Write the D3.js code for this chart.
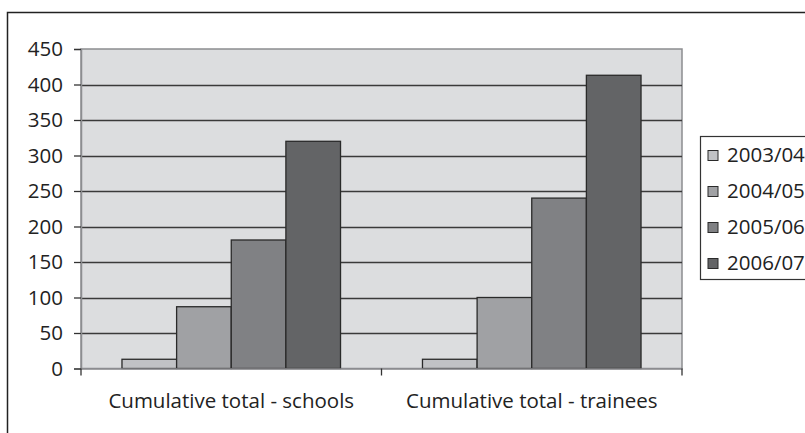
<!DOCTYPE html>
<html>
<head>
<meta charset="utf-8">
<script src="https://cdn.jsdelivr.net/npm/d3@7"></script>
<style>
  html, body { margin: 0; padding: 0; background: #fff; overflow: hidden; }
  svg { display: block; }
  text { font-family: "Open Sans", "DejaVu Sans", sans-serif; fill: #222; }
</style>
</head>
<body>
<svg id="chart" width="805" height="433"></svg>
<script>
const categories = ["Cumulative total - schools", "Cumulative total - trainees"];
const seriesNames = ["2003/04", "2004/05", "2005/06", "2006/07"];
const values2003 = [13, 13];
const values2004 = [87, 100];
const values2005 = [181, 240];
const values2006 = [320, 413];
const yTicks = [0, 50, 100, 150, 200, 250, 300, 350, 400, 450];
const seriesColors = ["#c1c2c5", "#a0a1a4", "#808184", "#636466"];

const seriesValues = [values2003, values2004, values2005, values2006];

const svg = d3.select("#chart");
const fontSize = 20.5;

// outer frame
svg.append("path")
  .attr("d", "M7.5,433 V12.5 H805")
  .attr("fill", "none").attr("stroke", "#222").attr("stroke-width", 1.5);

const plot = { left: 81, right: 682, top: 49, bottom: 368.5 };

const y = d3.scaleLinear().domain([0, 450]).range([plot.bottom, plot.top]);
const x0 = d3.scaleBand().domain(categories).range([plot.left, plot.right]).padding(0);
const x1 = d3.scaleBand().domain(seriesNames).range([0, x0.bandwidth()])
  .paddingInner(0).paddingOuter(0.75);

// plot background
svg.append("rect")
  .attr("x", plot.left).attr("y", plot.top)
  .attr("width", plot.right - plot.left).attr("height", plot.bottom - plot.top)
  .attr("fill", "#dcdddf").attr("stroke", "#8c8d90").attr("stroke-width", 1.5);

// gridlines
svg.append("g").selectAll("line")
  .data(yTicks.filter(d => d > 0 && d < 450))
  .join("line")
  .attr("x1", plot.left).attr("x2", plot.right)
  .attr("y1", d => Math.round(y(d)) + 0.5).attr("y2", d => Math.round(y(d)) + 0.5)
  .attr("stroke", "#3a3a3a").attr("stroke-width", 1.4);

// y axis
const yAxis = d3.axisLeft(y).tickValues(yTicks).tickSize(7).tickPadding(11);
const gy = svg.append("g").attr("transform", `translate(${plot.left},0)`).call(yAxis);
gy.select(".domain").attr("stroke", "#8c8d90").attr("stroke-width", 1.5);
gy.selectAll(".tick line").attr("stroke", "#333").attr("stroke-width", 1.3);
gy.selectAll(".tick text")
  .attr("font-size", fontSize).attr("font-family", "Open Sans, sans-serif")
  .attr("fill", "#222");

// bars
const groups = svg.append("g").selectAll("g")
  .data(categories)
  .join("g")
  .attr("transform", d => `translate(${x0(d)},0)`);

groups.selectAll("rect")
  .data((c, ci) => seriesNames.map((s, si) => ({ s, si, v: seriesValues[si][ci] })))
  .join("rect")
  .attr("x", d => x1(d.s))
  .attr("y", d => y(d.v))
  .attr("width", x1.bandwidth())
  .attr("height", d => y(0) - y(d.v))
  .attr("fill", d => seriesColors[d.si])
  .attr("stroke", "#2a2a2a").attr("stroke-width", 1.3);

// x axis
const xAxis = d3.axisBottom(x0).tickSize(0).tickPadding(25);
const gx = svg.append("g").attr("transform", `translate(0,${plot.bottom})`).call(xAxis);
gx.select(".domain").attr("stroke", "#8c8d90").attr("stroke-width", 1.5);
gx.selectAll(".tick text")
  .attr("font-size", fontSize).attr("font-family", "Open Sans, sans-serif")
  .attr("fill", "#222");
// category boundary ticks
const boundaries = [plot.left, ...categories.map(c => x0(c) + x0.bandwidth())];
gx.append("g").selectAll("line")
  .data(boundaries)
  .join("line")
  .attr("x1", d => d).attr("x2", d => d)
  .attr("y1", 0).attr("y2", 7)
  .attr("stroke", "#333").attr("stroke-width", 1.3);

// legend
const legend = svg.append("g");
legend.append("rect")
  .attr("x", 700.5).attr("y", 136.5).attr("width", 120).attr("height", 143)
  .attr("fill", "#fff").attr("stroke", "#333").attr("stroke-width", 1.2);
const rowY = d3.scalePoint().domain(seriesNames).range([155, 263]);
const items = legend.selectAll("g.item")
  .data(seriesNames)
  .join("g").attr("class", "item")
  .attr("transform", d => `translate(0,${rowY(d)})`);
items.append("rect")
  .attr("x", 708).attr("y", -4.5).attr("width", 10).attr("height", 10)
  .attr("fill", (d, i) => seriesColors[i])
  .attr("stroke", "#2a2a2a").attr("stroke-width", 1);
items.append("text")
  .attr("x", 727).attr("y", 0).attr("dy", "0.35em")
  .attr("font-size", fontSize)
  .text(d => d);
</script>
</body>
</html>
